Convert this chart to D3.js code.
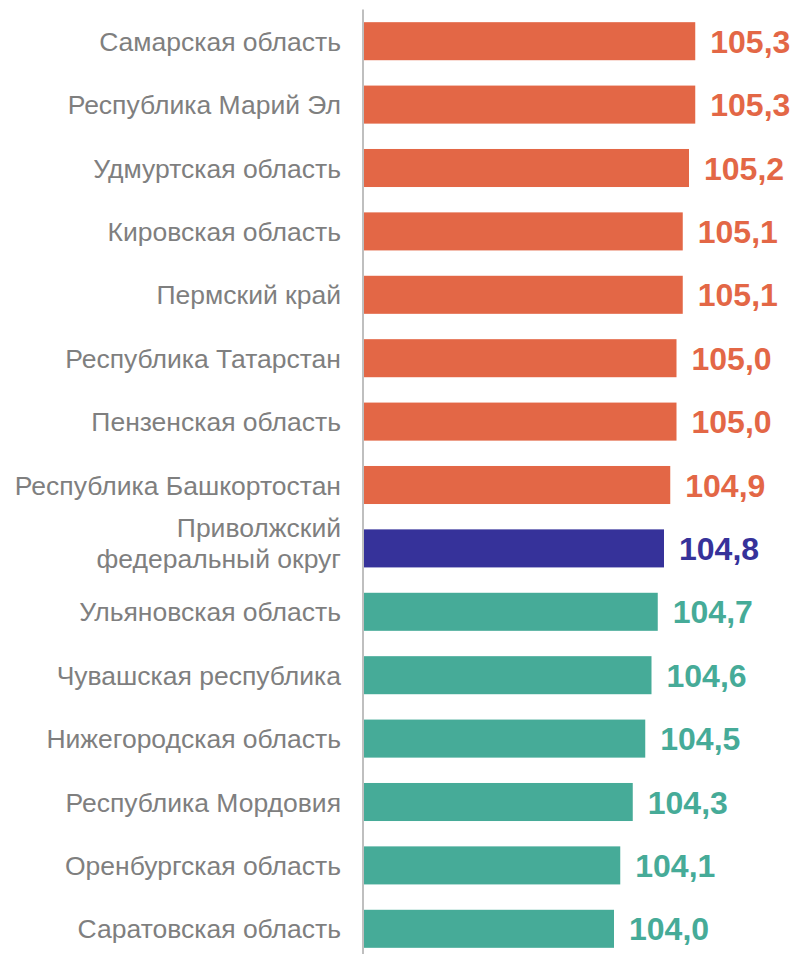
<!DOCTYPE html>
<html>
<head>
<meta charset="utf-8">
<script src="https://cdn.jsdelivr.net/npm/d3@7"></script>
<style>
    body { margin: 0; background: #fff; }
    svg text { font-family: "Liberation Sans", Arial, sans-serif; }
</style>
</head>
<body>
<div id="chart"></div>
<script>
// Data
const regions = [
    "Самарская область",
    "Республика Марий Эл",
    "Удмуртская область",
    "Кировская область",
    "Пермский край",
    "Республика Татарстан",
    "Пензенская область",
    "Республика Башкортостан",
    "Приволжский\nфедеральный округ",
    "Ульяновская область",
    "Чувашская республика",
    "Нижегородская область",
    "Республика Мордовия",
    "Оренбургская область",
    "Саратовская область",
];
const values = [105.3, 105.3, 105.2, 105.1, 105.1, 105.0, 105.0, 104.9, 104.8, 104.7, 104.6, 104.5, 104.3, 104.1, 104.0];
const groups = ["above", "above", "above", "above", "above", "above", "above", "above", "district",
    "below", "below", "below", "below", "below", "below"];

let width = 795;
let height = 954;

let svg = d3
    .select("#chart")
    .append("svg")
    .attr("width", width)
    .attr("height", height);

const data = regions.map((d, i) => ({ name: d, value: values[i], group: groups[i] }));

// Scales
let x_scale = d3.scaleLinear().domain([100, 106]).range([364, 739]);
let y_scale = d3
    .scaleBand()
    .domain(regions)
    .range([9.5, 960.5])
    .paddingInner(0.4)
    .paddingOuter(0.2);
let color = d3
    .scaleOrdinal()
    .domain(["above", "district", "below"])
    .range(["#E36746", "#36329A", "#46AB98"]);

const fmt = (v) => d3.format(".1f")(v).replace(".", ",");

// Bars
svg.append("g")
    .selectAll("rect")
    .data(data)
    .enter()
    .append("rect")
    .attr("x", x_scale(100))
    .attr("y", (d) => y_scale(d.name))
    .attr("width", (d) => x_scale(d.value) - x_scale(100))
    .attr("height", y_scale.bandwidth())
    .attr("fill", (d) => color(d.group));

// Vertical axis line
svg.append("line")
    .attr("x1", x_scale(100) - 1)
    .attr("x2", x_scale(100) - 1)
    .attr("y1", y_scale.range()[0])
    .attr("y2", height)
    .attr("stroke", "#BFBFBF")
    .attr("stroke-width", 2);

// Category labels
let labels = svg.append("g")
    .selectAll("text")
    .data(data)
    .enter()
    .append("text")
    .attr("text-anchor", "end")
    .attr("fill", "#7F7F7F")
    .style("font-size", "26.5px");

const line_height = 31;
labels.each(function (d) {
    const lines = d.name.split("\n");
    const cy = y_scale(d.name) + y_scale.bandwidth() / 2;
    const t = d3.select(this);
    lines.forEach((l, i) => {
        t.append("tspan")
            .attr("x", 341)
            .attr("y", cy + (i - (lines.length - 1) / 2) * line_height - (lines.length > 1 ? 5 : 0))
            .attr("dy", "0.36em")
            .text(l);
    });
});

// Value labels
svg.append("g")
    .selectAll("text")
    .data(data)
    .enter()
    .append("text")
    .attr("x", (d) => x_scale(d.value) + 15)
    .attr("y", (d) => y_scale(d.name) + y_scale.bandwidth() / 2)
    .attr("dy", "0.36em")
    .attr("fill", (d) => color(d.group))
    .style("font-size", "32px")
    .style("font-weight", "bold")
    .text((d) => fmt(d.value));
</script>
</body>
</html>
